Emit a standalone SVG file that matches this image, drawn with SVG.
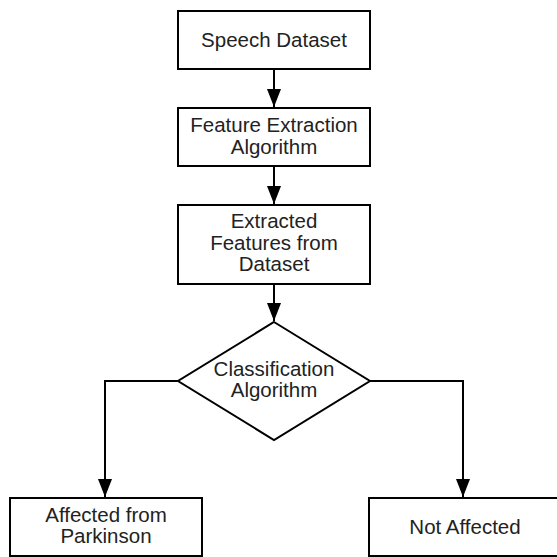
<svg xmlns="http://www.w3.org/2000/svg" width="557" height="557" viewBox="0 0 557 557">
<defs>
<marker id="arr" markerUnits="userSpaceOnUse" markerWidth="18" markerHeight="14" viewBox="0 0 18 14" refX="18" refY="7" orient="auto">
<path d="M0,0 L18,7 L0,14 Z" fill="#000"/>
</marker>
<style>
.box{fill:#fff;stroke:#000;stroke-width:2}
.lbl{font-family:"Liberation Sans",Arial,sans-serif;font-size:20.5px;fill:#222;text-anchor:middle}
.con{fill:none;stroke:#000;stroke-width:2}
</style>
</defs>
<rect width="557" height="557" fill="#fff"/>
<g id="speech-dataset">
<rect class="box" x="178" y="11" width="192" height="58"/>
<text class="lbl" x="274" y="47">Speech Dataset</text>
</g>
<g id="feature-extraction">
<rect class="box" x="178" y="108" width="192" height="58"/>
<text class="lbl" x="274" y="132">Feature Extraction</text>
<text class="lbl" x="274" y="154">Algorithm</text>
</g>
<g id="extracted-features">
<rect class="box" x="178" y="205" width="192" height="79"/>
<text class="lbl" x="274" y="228">Extracted</text>
<text class="lbl" x="274" y="250">Features from</text>
<text class="lbl" x="274" y="271">Dataset</text>
</g>
<g id="classification">
<polygon class="box" points="274,322 370,381 274,440 178,381"/>
<text class="lbl" x="274" y="376">Classification</text>
<text class="lbl" x="274" y="397">Algorithm</text>
</g>
<g id="affected">
<rect class="box" x="10" y="498" width="192" height="58"/>
<text class="lbl" x="106" y="522">Affected from</text>
<text class="lbl" x="106" y="543">Parkinson</text>
</g>
<g id="not-affected">
<rect class="box" x="369" y="498" width="196" height="58"/>
<text class="lbl" x="465" y="534">Not Affected</text>
</g>
<g id="connectors">
<path class="con" d="M274,69 L274,107" marker-end="url(#arr)"/>
<path class="con" d="M274,166 L274,204" marker-end="url(#arr)"/>
<path class="con" d="M274,284 L274,321" marker-end="url(#arr)"/>
<path class="con" d="M178,381 L105,381 L105,497" marker-end="url(#arr)"/>
<path class="con" d="M370,381 L463,381 L463,497" marker-end="url(#arr)"/>
</g>
</svg>
